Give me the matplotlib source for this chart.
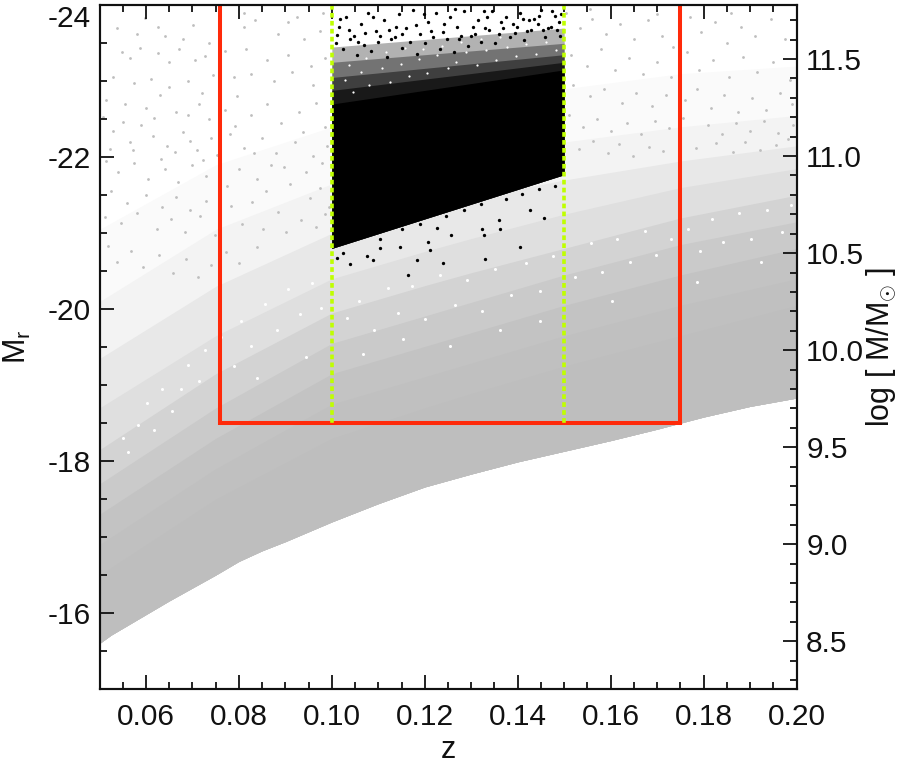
import matplotlib
matplotlib.use("Agg")
import matplotlib.pyplot as plt
import numpy as np
from matplotlib.ticker import MultipleLocator, FormatStrFormatter

plt.rcParams['font.family'] = ['Liberation Sans', 'DejaVu Sans']
plt.rcParams['mathtext.fontset'] = 'custom'
plt.rcParams['mathtext.rm'] = 'Liberation Sans'
plt.rcParams['mathtext.it'] = 'Liberation Sans'
plt.rcParams['mathtext.bf'] = 'Liberation Sans'

# faint limit of the grey sample
edge_z = [0.05, 0.0525, 0.055, 0.06, 0.065, 0.07, 0.075, 0.08, 0.085, 0.09, 0.095, 0.10, 0.11, 0.12, 0.13, 0.14, 0.15, 0.16, 0.17, 0.175, 0.18, 0.19, 0.20]
edge_mr = [-15.6, -15.71, -15.80, -15.98, -16.16, -16.33, -16.50, -16.68, -16.82, -16.94, -17.07, -17.2, -17.44, -17.66, -17.83, -17.99, -18.13, -18.27, -18.42, -18.5, -18.58, -18.72, -18.83]

# density contours of the grey sample (sparse to filled)
band_z = [0.05, 0.075, 0.10, 0.125, 0.15, 0.175, 0.20]
band_mr = [
    [-21.05, -21.9, -22.4, -22.7, -22.9, -23.1, -23.2],
    [-20.1, -21.05, -21.65, -21.95, -22.2, -22.4, -22.55],
    [-19.35, -20.3, -21.0, -21.4, -21.7, -21.95, -22.15],
    [-18.7, -19.65, -20.4, -20.85, -21.25, -21.6, -21.85],
    [-18.15, -19.15, -19.95, -20.4, -20.8, -21.2, -21.5],
    [-17.7, -18.7, -19.55, -20.0, -20.45, -20.85, -21.15],
    [-17.3, -18.3, -19.15, -19.6, -20.05, -20.45, -20.8],
    [-16.9, -17.9, -18.75, -19.2, -19.65, -20.05, -20.4],
    [-16.5, -17.5, -18.3, -18.8, -19.25, -19.65, -20.05],
]
band_cover = [0.07, 0.18, 0.35, 0.5, 0.68, 0.82, 0.92, 0.97, 1.0]

# black sample
black_z = [0.10, 0.15]
black_low = [-20.8, -21.77]
black_solid = [-22.7, -23.15]
black_layers = [[-23.45, -23.7], [-23.25, -23.5], [-23.05, -23.35], [-22.88, -23.25]]
black_alpha = [0.3, 0.35, 0.45, 0.6]

sparse_gray = [
 (.0538,-23.70),(.0581,-23.62),(.0597,-23.83),(.0625,-23.72),(.0641,-23.60),(.0680,-23.55),(.0701,-23.74),(.0735,-23.50),
 (.0548,-23.38),(.0566,-23.30),(.0588,-23.44),(.0625,-23.37),(.0650,-23.25),(.0672,-23.42),(.0705,-23.28),(.0727,-23.33),
 (.0770,-23.40),(.0810,-23.72),(.0835,-23.80),(.0885,-23.62),(.0925,-23.85),(.0940,-23.55),(.0975,-23.66),(.0815,-23.42),
 (.0860,-23.28),(.0905,-23.35),(.0955,-23.20),(.0985,-23.30),(.0790,-23.05),(.0825,-23.10),(.0875,-23.00),(.0915,-23.12),
 (.0960,-22.95),(.0530,-23.05),(.0575,-22.98),(.0610,-23.03),(.0650,-22.92),(.0690,-23.00),(.0720,-22.85),(.0745,-23.08),
 (.0515,-22.75),(.0555,-22.70),(.0600,-22.65),(.0630,-22.82),(.0665,-22.60),(.0690,-22.55),(.0715,-22.70),(.0735,-22.50),
 (.0770,-22.62),(.0795,-22.80),(.0825,-22.55),(.0860,-22.70),(.0890,-22.45),(.0930,-22.60),(.0965,-22.72),(.0985,-22.40),
 (.0530,-22.35),(.0565,-22.20),(.0590,-22.42),(.0615,-22.28),(.0645,-22.15),(.0680,-22.33),(.0710,-22.10),(.0740,-22.25),
 (.0515,-21.95),(.0540,-21.80),(.0575,-21.92),(.0605,-21.72),(.0640,-21.85),(.0670,-21.68),(.0700,-21.90),(.0730,-21.75),
 (.0780,-22.30),(.0810,-22.12),(.0850,-22.25),(.0880,-22.05),(.0920,-22.20),(.0960,-22.02),(.0990,-22.15),(.0800,-21.85),
 (.0840,-21.72),(.0870,-21.90),(.0910,-21.65),(.0945,-21.80),(.0975,-21.60),(.0525,-21.55),(.0560,-21.40),(.0600,-21.50),
 (.0635,-21.35),(.0665,-21.48),(.0695,-21.30),(.0730,-21.42),(.0760,-21.55),
 (.1505,-23.90),(.1535,-23.70),(.1560,-23.82),(.1590,-23.62),(.1620,-23.75),(.1650,-23.55),(.1680,-23.80),(.1710,-23.60),
 (.1735,-23.45),(.1770,-23.85),(.1795,-23.65),(.1825,-23.78),(.1850,-23.50),(.1880,-23.72),(.1910,-23.60),(.1945,-23.82),
 (.1975,-23.55),(.1515,-23.35),(.1550,-23.20),(.1580,-23.42),(.1610,-23.15),(.1640,-23.30),(.1670,-23.10),(.1700,-23.25),
 (.1730,-23.05),(.1765,-23.38),(.1790,-23.15),(.1820,-23.28),(.1855,-23.05),(.1885,-23.32),(.1915,-23.12),(.1950,-23.25),
 (.1985,-23.02),(.1520,-22.95),(.1555,-22.80),(.1585,-22.90),(.1625,-22.72),(.1655,-22.85),(.1690,-22.68),(.1720,-22.82),
 (.1760,-22.75),(.1785,-22.90),(.1815,-22.65),(.1845,-22.82),(.1875,-22.60),(.1905,-22.78),(.1935,-22.62),(.1965,-22.85),
 (.1990,-22.70),(.1510,-22.55),(.1540,-22.40),(.1570,-22.50),(.1600,-22.35),(.1635,-22.45),(.1665,-22.30),(.1695,-22.48),
 (.1725,-22.38),(.1755,-22.52),(.1810,-22.42),(.1840,-22.30),(.1870,-22.45),(.1900,-22.35),(.1930,-22.48),(.1960,-22.32),
 (.1993,-22.42),(.0810,-23.90),(.0905,-23.78),(.0980,-23.90),(.1555,-23.95),(.1700,-23.88),(.1860,-23.90),
 (.0507,-22.53),(.0523,-22.11),(.0551,-22.47),(.0572,-22.09),(.0618,-22.51),(.0633,-21.98),(.0662,-22.07),(.0695,-22.21),
 (.0722,-21.97),(.0752,-22.03),(.0775,-21.62),(.0792,-22.41),(.0833,-22.06),(.0858,-21.55),(.0897,-21.87),(.0938,-22.33),
 (.0952,-21.46),(.0979,-21.92),(.0993,-21.34),(.0512,-21.21),(.0547,-21.13),(.0581,-21.27),(.0623,-21.06),(.0654,-21.19),
 (.0683,-21.02),(.0716,-21.23),(.0748,-20.97),(.0782,-21.36),(.0807,-21.12),(.0829,-21.41),(.0852,-21.06),(.0884,-21.28),
 (.0902,-21.01),(.0933,-21.18),(.0967,-21.08),(.0986,-21.25),(.0519,-20.83),(.0538,-20.62),(.0568,-20.77),(.0594,-20.55),
 (.0627,-20.71),(.0659,-20.48),(.0687,-20.66),(.0712,-20.42),(.0741,-20.58),(.0773,-20.75),(.0801,-20.61),(.0838,-20.82),
 (.1531,-22.11),(.1562,-22.21),(.1594,-22.05),(.1617,-22.18),(.1648,-22.02),(.1683,-22.14),(.1712,-22.08),(.1748,-22.23),
 (.1783,-22.12),(.1826,-22.19),(.1863,-22.07),(.1889,-22.20),(.1922,-22.10),(.1956,-22.16),(.1981,-22.24),
]

white_flecks = [
 (.0551,-18.31),(.0562,-18.12),(.0583,-18.48),(.0602,-18.76),(.0634,-18.95),(.0618,-18.41),(.0657,-18.66),(.0690,-19.27),
 (.0715,-19.05),(.0728,-19.46),(.0761,-19.63),(.0789,-19.25),(.0804,-19.85),(.0826,-19.51),(.0857,-20.07),(.0882,-19.72),
 (.0906,-20.26),(.0931,-19.93),(.0958,-20.34),(.0977,-20.02),(.1032,-19.88),(.1058,-20.11),(.1090,-19.72),(.1121,-20.28),
 (.1143,-19.95),(.1172,-20.31),(.1201,-19.87),(.1232,-20.45),(.1266,-20.06),(.1291,-20.38),(.1324,-19.98),(.1351,-20.53),
 (.1386,-20.19),(.1417,-20.61),(.1448,-20.24),(.1476,-20.70),(.1523,-20.43),(.1557,-20.87),(.1582,-20.49),(.1613,-20.93),
 (.1641,-20.62),(.1673,-21.03),(.1698,-20.71),(.1729,-20.92),(.1767,-21.06),(.1793,-20.76),(.1818,-21.19),(.1842,-20.88),
 (.1877,-21.26),(.1903,-20.93),(.1937,-21.31),(.1969,-21.02),(.1988,-21.37),(.0675,-18.95),(.0838,-19.10),(.1068,-19.41),
 (.1254,-19.52),(.1448,-19.84),(.1602,-20.11),(.1786,-20.36),(.1923,-20.62),(.0945,-19.37),(.1153,-19.61),(.1362,-19.72),
]

sparse_black = [
 (.1015,-23.72),(.1030,-23.85),(.1048,-23.60),(.1062,-23.76),(.1078,-23.90),(.1095,-23.66),(.1112,-23.80),(.1128,-23.55),
 (.1145,-23.88),(.1160,-23.70),(.1175,-23.94),(.1190,-23.62),(.1208,-23.78),(.1225,-23.90),(.1240,-23.65),(.1255,-23.84),
 (.1270,-23.72),(.1285,-23.92),(.1300,-23.60),(.1315,-23.80),(.1330,-23.70),(.1345,-23.93),(.1360,-23.62),(.1375,-23.84),
 (.1390,-23.75),(.1405,-23.90),(.1420,-23.66),(.1435,-23.82),(.1450,-23.94),(.1465,-23.70),(.1480,-23.86),(.1492,-23.60),
 (.1010,-23.50),(.1025,-23.42),(.1040,-23.55),(.1055,-23.35),(.1070,-23.48),(.1085,-23.40),(.1100,-23.52),(.1118,-23.32),
 (.1135,-23.58),(.1150,-23.44),(.1168,-23.52),(.1183,-23.36),(.1200,-23.50),(.1218,-23.58),(.1232,-23.42),(.1248,-23.55),
 (.1263,-23.38),(.1278,-23.60),(.1293,-23.47),(.1308,-23.62),(.1322,-23.52),(.1338,-23.68),(.1352,-23.50),(.1368,-23.70),
 (.1383,-23.58),(.1398,-23.72),(.1413,-23.54),(.1428,-23.68),(.1443,-23.76),(.1458,-23.58),(.1472,-23.72),(.1488,-23.78),
 (.1012,-23.61),(.1037,-23.68),(.1057,-23.52),(.1072,-23.63),(.1103,-23.60),(.1122,-23.68),(.1152,-23.62),(.1182,-23.74),
 (.1213,-23.66),(.1242,-23.75),(.1273,-23.56),(.1304,-23.72),(.1334,-23.84),(.1364,-23.78),(.1394,-23.63),(.1424,-23.80),
 (.1454,-23.68),(.1484,-23.68),(.1018,-23.82),(.1088,-23.84),(.1138,-23.72),(.1198,-23.88),(.1264,-23.95),(.1328,-23.92),
 (.1412,-23.82),(.1446,-23.86),(.1474,-23.92),(.1494,-23.88),
 (.1024,-20.74),(.1039,-20.60),(.1011,-20.67),(.1075,-20.70),(.1088,-20.65),(.1104,-20.80),(.1147,-20.82),(.1183,-20.65),
 (.1206,-20.89),(.1211,-20.78),(.1239,-20.61),(.1256,-20.98),(.1226,-21.07),(.1323,-21.05),(.1328,-20.98),(.1362,-21.05),
 (.1360,-21.18),(.1405,-20.82),(.1457,-21.20),(.1426,-21.31),(.1330,-20.66),(.1164,-20.45),(.1104,-20.93),(.1150,-21.05),
 (.1190,-21.12),(.1245,-21.22),(.1285,-21.30),(.1320,-21.38),(.1375,-21.45),(.1410,-21.52),(.1445,-21.58),(.1480,-21.62),
]

black_flecks = [
 (.1028,-23.02),(.1046,-22.86),(.1063,-23.12),(.1081,-22.95),(.1107,-23.18),(.1126,-22.99),(.1148,-23.23),(.1167,-23.07),
 (.1188,-23.29),(.1205,-23.11),(.1227,-23.34),(.1249,-23.17),(.1268,-23.25),(.1289,-23.38),(.1312,-23.21),(.1331,-23.41),
 (.1354,-23.28),(.1376,-23.45),(.1397,-23.33),(.1418,-23.49),(.1439,-23.36),(.1461,-23.52),(.1483,-23.41),(.1036,-23.21),
 (.1074,-23.31),(.1116,-23.38),(.1157,-23.44),(.1196,-23.42),(.1238,-23.47),(.1279,-23.52),(.1321,-23.56),(.1362,-23.58),
]

red_z = [0.0759, 0.0759, 0.175, 0.175]
red_mr = [-24, -18.5, -18.5, -24]
green_left_z = [0.10, 0.10]
green_right_z = [0.15, 0.15]
green_mr = [-24, -18.5]

GREY = '#BEBEBE'
fig = plt.figure(figsize=(9, 7.62), dpi=100)
ax = fig.add_axes([99.5/900, 1-689/762, 697/900, 683.7/762])

grid = np.array(edge_z)
lo = np.array(edge_mr)
for mr, c in zip(band_mr, band_cover):
    hi = np.interp(grid, band_z, mr)
    shade = 1 - (1 - 0xBE/255) * c
    ax.fill_between(grid, lo, hi, color=(shade, shade, shade), lw=0, zorder=1)


def dots(points, color, size, z):
    ax.plot([p[0] for p in points], [p[1] for p in points], ls='none', marker='o', ms=size, mew=0, color=color, zorder=z)


dots(white_flecks, 'white', 2.2, 1.5)
dots(sparse_gray, GREY, 2.0, 2)

for top, a in zip(black_layers, black_alpha):
    ax.fill_between(black_z, black_low, top, color='k', alpha=a, lw=0, zorder=3)
ax.fill_between(black_z, black_low, black_solid, color='k', lw=0, zorder=3)
dots(black_flecks, 'white', 1.6, 3.5)
dots(sparse_black, 'k', 2.4, 4)

ax.plot(red_z, red_mr, color='#FF2A0A', lw=2.9, solid_joinstyle='miter', zorder=5)
for gz in (green_left_z, green_right_z):
    ax.plot(gz, green_mr, color='#BFFF00', lw=2.6, ls=(0, (1.3, 0.9)), zorder=6)

ax.set_xlim(0.05, 0.20)
ax.set_ylim(-15, -24)
ax.xaxis.set_major_locator(MultipleLocator(0.02))
ax.xaxis.set_minor_locator(MultipleLocator(0.005))
ax.xaxis.set_major_formatter(FormatStrFormatter('%.2f'))
ax.yaxis.set_major_locator(MultipleLocator(2))
ax.yaxis.set_minor_locator(MultipleLocator(0.5))
ax.yaxis.set_major_formatter(FormatStrFormatter('%d'))
ax.tick_params(axis='x', which='both', top=True, direction='in', width=1.3, color='#111111')
ax.tick_params(axis='y', which='both', direction='in', width=1.3, color='#111111')
ax.tick_params(which='major', length=10, labelsize=21.5, colors='#111111')
ax.tick_params(which='minor', length=5)
ax.tick_params(axis='x', pad=10)
ax.tick_params(axis='y', pad=6.5)
for s in ax.spines.values():
    s.set_linewidth(1.5)
    s.set_color('#111111')
    s.set_zorder(10)
ax.set_axisbelow(False)

# right axis: stellar mass
ax2 = ax.twinx()
ax2.set_ylim(8.254, 11.777)
ax2.yaxis.set_major_locator(MultipleLocator(0.5))
ax2.yaxis.set_minor_locator(MultipleLocator(0.1))
ax2.yaxis.set_major_formatter(FormatStrFormatter('%.1f'))
ax2.tick_params(axis='y', which='both', direction='in', width=1.3, color='#111111')
ax2.tick_params(axis='y', which='major', length=10, labelsize=21.5, pad=7, labelcolor='#111111')
ax2.tick_params(axis='y', which='minor', length=5)
for s in ax2.spines.values():
    s.set_linewidth(1.5)
    s.set_color('#111111')

fig.text(448/900, 1-750/762, 'z', fontsize=22, ha='center', va='center', color='#111111')
fig.text(17/900, 1-347/762, r'M$_{\mathrm{r}}$', fontsize=22, rotation=90, ha='center', va='center', color='#111111')
fig.text(881/900, 1-347/762, r'log [ M/M$_{\odot}$ ]', fontsize=22, rotation=90, ha='center', va='center', color='#111111')

fig.canvas.draw()
for t in ax.yaxis.get_major_ticks():
    if abs(t.get_loc() + 24) < 1e-6:
        t.label1.set_verticalalignment('top')

fig.savefig('out.png', dpi=100)
